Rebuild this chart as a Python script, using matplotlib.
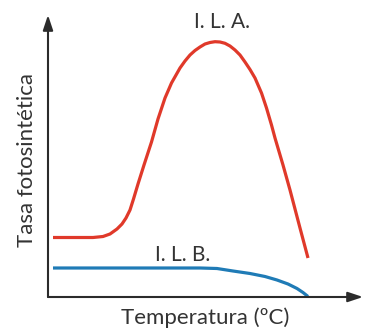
import matplotlib.pyplot as plt

# traced curve points (arbitrary units: temperature along x, rate along y)
ila_temp = [5, 45, 55, 62, 69, 74, 78, 82, 85.5, 90, 96, 103.5, 110, 117, 123.5, 132,
            137, 142, 147, 152, 157, 162, 167, 172, 177, 182, 187, 192, 197, 202,
            207, 213.5, 218.5, 223.5, 227, 235, 242, 252, 260]
ila_rate = [59.5, 59.5, 60.5, 63, 68, 73, 79, 87, 98, 113, 132, 155, 178, 199, 214, 229,
            236, 242, 246.5, 250, 253, 254.5, 255.3, 255, 253.7, 251, 247, 242, 235, 227.5,
            219, 204, 189, 172, 159, 132, 107, 69, 39]

ilb_temp = [5, 102, 152, 169, 185, 202, 217, 229, 240, 249, 255, 260]
ilb_rate = [29, 29, 29, 28.5, 26, 23.5, 20.5, 17, 13, 8.5, 4.5, 0.5]

names = ["I. L. A.", "I. L. B."]
xlabel = "Temperatura (ºC)"
ylabel = "Tasa fotosintética"

plt.rcParams['font.family'] = ['Lato', 'DejaVu Sans']

fig = plt.figure(figsize=(3.67, 3.33), dpi=100)
ax = fig.add_axes([48 / 367, 36 / 333, 315 / 367, 282 / 333])
ax.set_xlim(0, 315)
ax.set_ylim(0, 282)
ax.axis('off')

ax.plot(ila_temp, ila_rate, color='#e0392a', lw=2.3, solid_capstyle='butt',
        solid_joinstyle='round')
ax.plot(ilb_temp, ilb_rate, color='#1f7bb6', lw=2.3, solid_capstyle='butt',
        solid_joinstyle='round')

# axes with arrows
arrow = dict(arrowstyle='-|>,head_length=0.9,head_width=0.3', color='#2b2b2b',
             lw=1.5, shrinkA=0, shrinkB=0)
ax.annotate('', xy=(1, 0), xytext=(0, 0), xycoords='axes fraction', arrowprops=arrow)
ax.annotate('', xy=(0, 1), xytext=(0, 0), xycoords='axes fraction', arrowprops=arrow)

tc = '#333333'
ax.text(173.5, 275, names[0], ha='center', va='center', fontsize=15, color=tc)
ax.text(134.5, 42, names[1], ha='center', va='center', fontsize=15, color=tc)
fig.text(205 / 367, 1 - 318 / 333, xlabel, ha='center', va='center', fontsize=16, color=tc)
fig.text(27 / 367, 1 - 160 / 333, ylabel, ha='center', va='center', rotation=90,
         fontsize=16, color=tc)

fig.savefig('out.png', dpi=100, facecolor='white')
